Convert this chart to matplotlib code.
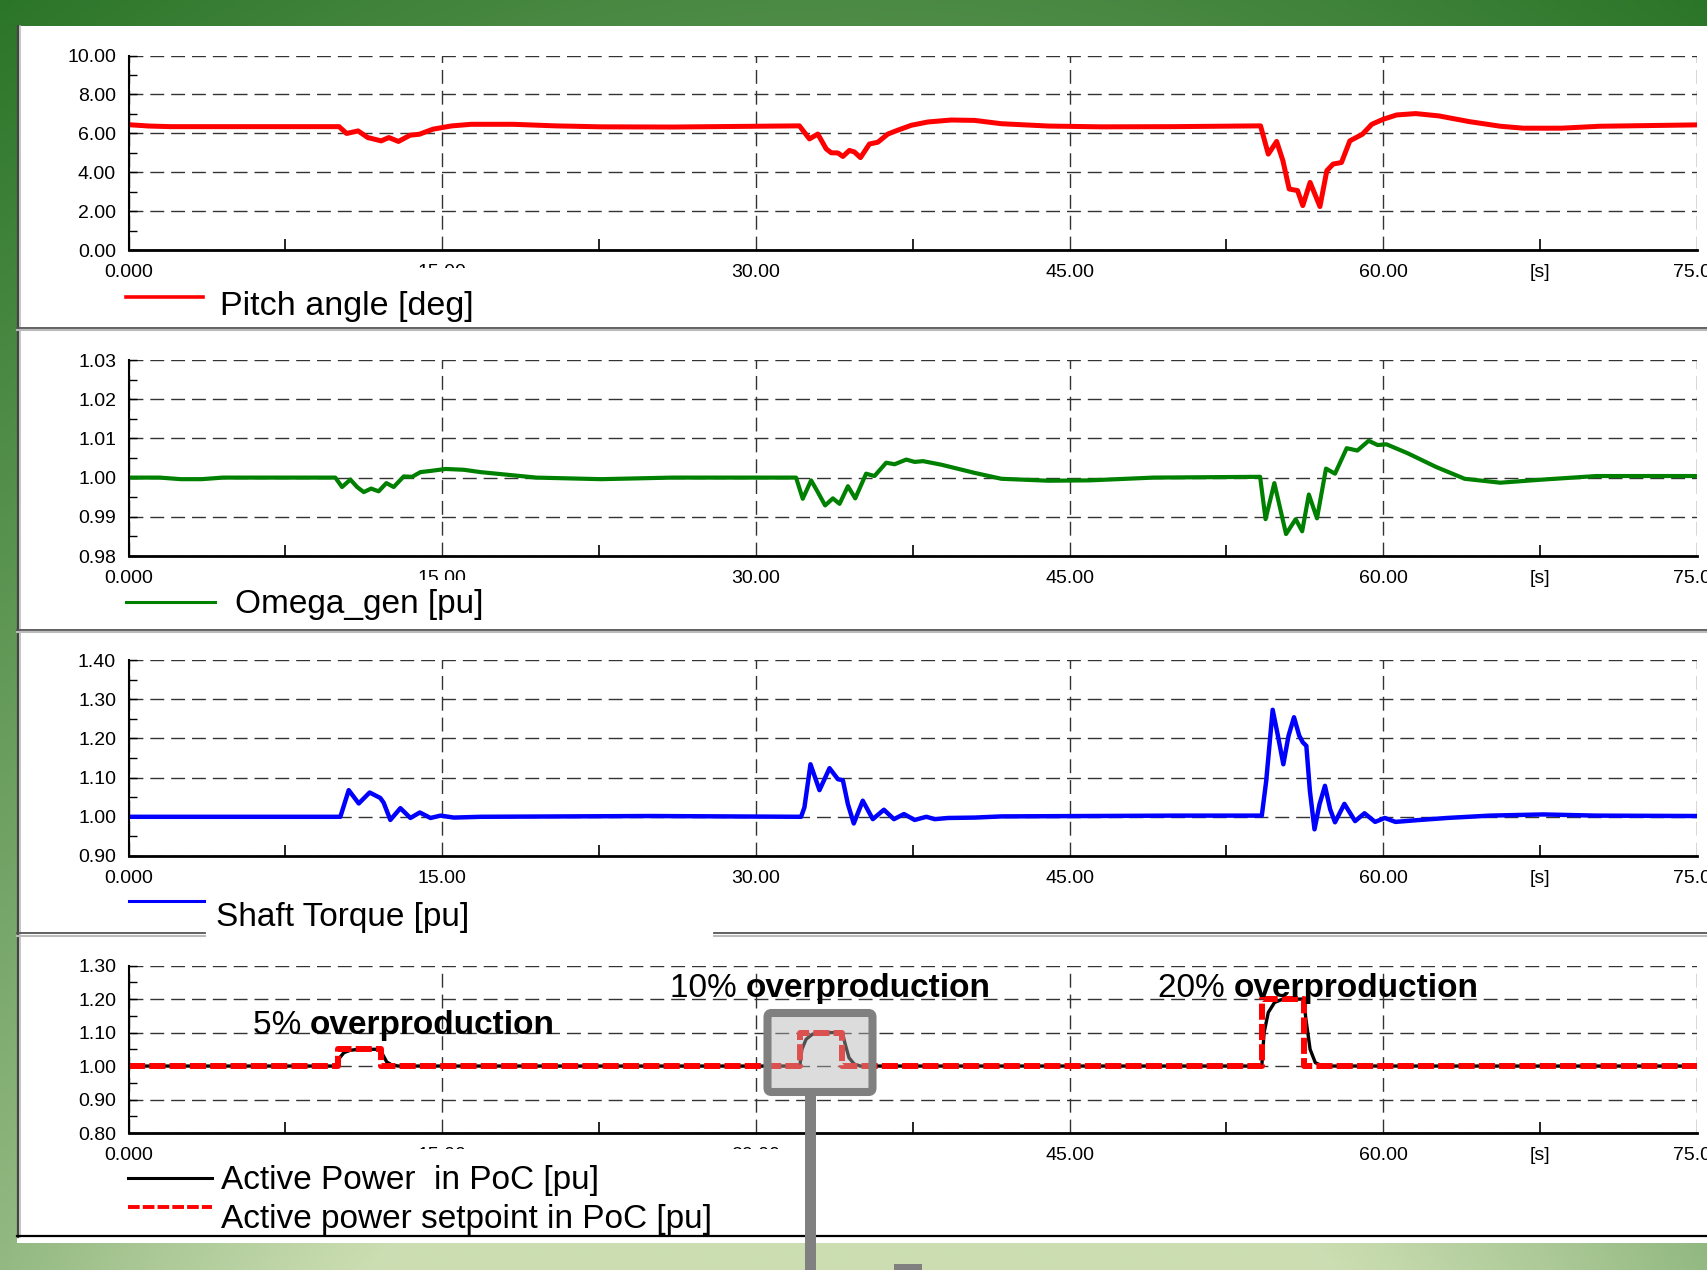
import numpy as np
import matplotlib.pyplot as plt
from matplotlib.patches import Rectangle, FancyBboxPatch
from matplotlib.lines import Line2D

plt.rcParams['font.family'] = ['Liberation Sans', 'DejaVu Sans']

W, H = 1707, 1270

# ---- data ----
pitch_t = [0, 1.0, 2.0, 10.07, 10.43, 10.98, 11.44, 12.08, 12.45, 12.91, 13.46, 13.91, 14.56,
           15.47, 16.39, 18.4, 20.4, 22.6, 26.0, 32.08, 32.56, 32.96, 33.36, 33.6, 33.92, 34.16,
           34.47, 34.71, 35.0, 35.43, 35.83, 36.31, 36.79, 37.43, 38.23, 39.34, 40.46, 41.74,
           44.0, 46.5, 50.0, 54.13, 54.5, 54.9, 55.2, 55.5, 55.9, 56.15, 56.5, 56.97, 57.3, 57.6,
           58.0, 58.4, 59.0, 59.45, 60.0, 60.64, 61.55, 62.66, 64.1, 65.6, 66.7, 68.5, 70.35, 75.0]
pitch_v = [6.45, 6.38, 6.35, 6.35, 6.0, 6.13, 5.79, 5.62, 5.79, 5.59, 5.91, 5.96, 6.22,
           6.39, 6.47, 6.47, 6.39, 6.34, 6.33, 6.39, 5.72, 5.97, 5.21, 5.01, 5.0, 4.82,
           5.13, 5.05, 4.76, 5.46, 5.55, 5.97, 6.17, 6.42, 6.59, 6.69, 6.67, 6.5,
           6.38, 6.34, 6.35, 6.39, 4.94, 5.59, 4.6, 3.15, 3.07, 2.3, 3.49, 2.25, 4.09, 4.43,
           4.51, 5.62, 5.96, 6.47, 6.73, 6.95, 7.02, 6.9, 6.61, 6.37, 6.27, 6.27, 6.37, 6.44]

omega_t = [0, 1.5, 2.5, 3.5, 4.5, 9.89, 10.21, 10.61, 10.93, 11.25, 11.6, 11.96, 12.33, 12.68,
           13.16, 13.56, 13.96, 14.44, 15.16, 16.03, 16.83, 19.5, 22.6, 26.0, 31.92, 32.24, 32.64,
           32.96, 33.31, 33.68, 34.0, 34.4, 34.75, 35.27, 35.67, 36.23, 36.63, 37.19, 37.59, 37.99,
           38.86, 40.46, 41.74, 44.0, 46.0, 49.0, 54.11, 54.37, 54.79, 55.35, 55.81, 56.12, 56.44,
           56.83, 57.26, 57.69, 58.25, 58.76, 59.3, 59.73, 60.15, 61.17, 62.53, 63.89, 65.59,
           67.64, 70.19, 75.0]
omega_v = [1.0, 1.0, 0.9996, 0.9996, 1.0, 1.0, 0.9976, 0.9995, 0.9976, 0.9963, 0.9972, 0.9965,
           0.9986, 0.9976, 1.0003, 1.0002, 1.0014, 1.0017, 1.0022, 1.002, 1.0014, 1.0, 0.9996, 1.0,
           1.0, 0.9946, 0.9993, 0.9963, 0.9929, 0.9947, 0.9933, 0.9978, 0.9947, 1.001, 1.0004,
           1.0038, 1.0034, 1.0046, 1.004, 1.0042, 1.0033, 1.0012, 0.9997, 0.9992, 0.9993, 1.0,
           1.0002, 0.9894, 0.9986, 0.9856, 0.9894, 0.9863, 0.9957, 0.9896, 1.0023, 1.001, 1.0075,
           1.0069, 1.0094, 1.0083, 1.0085, 1.0062, 1.0027, 0.9997, 0.9987, 0.9995, 1.0004, 1.0004]

torque_t = [0, 10.13, 10.53, 11.01, 11.53, 12.04, 12.2, 12.52, 13.0, 13.48, 13.93, 14.44, 14.92,
            15.56, 16.83, 25.0, 32.16, 32.32, 32.61, 33.04, 33.52, 33.92, 34.16, 34.4, 34.68,
            35.11, 35.59, 36.12, 36.6, 37.08, 37.59, 38.15, 38.55, 39.19, 40.46, 41.74, 50.0,
            54.19, 54.4, 54.71, 54.96, 55.22, 55.47, 55.73, 55.98, 56.15, 56.32, 56.49, 56.71,
            56.95, 57.21, 57.46, 57.69, 58.14, 58.65, 59.1, 59.61, 60.07, 60.58, 61.51, 63.04,
            65.09, 67.64, 70.19, 75.0]
torque_v = [1.0, 1.0, 1.068, 1.034, 1.062, 1.048, 1.036, 0.992, 1.022, 0.997, 1.011, 0.997, 1.003,
            0.998, 1.0, 1.002, 1.0, 1.024, 1.134, 1.068, 1.124, 1.096, 1.093, 1.032, 0.983,
            1.041, 0.994, 1.018, 0.994, 1.007, 0.992, 1.0, 0.994, 0.997, 0.998, 1.001, 1.003,
            1.003, 1.091, 1.273, 1.207, 1.134, 1.207, 1.254, 1.207, 1.19, 1.181, 1.066, 0.968,
            1.032, 1.079, 1.019, 0.986, 1.033, 0.989, 1.009, 0.987, 0.997, 0.987, 0.991, 0.997,
            1.003, 1.006, 1.003, 1.002]

setpoint_t = [0, 10.01, 10.01, 12.05, 12.05, 32.1, 32.1, 34.14, 34.14, 54.19, 54.19, 56.19, 56.19, 75]
setpoint_v = [1.0, 1.0, 1.05, 1.05, 1.0, 1.0, 1.1, 1.1, 1.0, 1.0, 1.2, 1.2, 1.0, 1.0]

power_t = [0, 10.01, 10.1, 10.3, 10.6, 11.0, 12.05, 12.15, 12.35, 12.6, 12.9,
           32.1, 32.2, 32.4, 32.7, 33.1, 34.14, 34.25, 34.45, 34.7, 35.0,
           54.19, 54.3, 54.5, 54.8, 55.2, 56.19, 56.3, 56.5, 56.75, 57.1, 75]
power_v = [1.0, 1.0, 1.025, 1.04, 1.047, 1.05, 1.05, 1.035, 1.012, 1.003, 1.0,
           1.0, 1.05, 1.08, 1.095, 1.1, 1.1, 1.07, 1.025, 1.006, 1.0,
           1.0, 1.1, 1.16, 1.19, 1.2, 1.2, 1.14, 1.05, 1.01, 1.0, 1.0]

x_major = [0, 15, 30, 45, 60, 75]
x_major_labels = ['0.000', '15.00', '30.00', '45.00', '60.00', '75.00']
x_minor = [7.5, 22.5, 37.5, 52.5, 67.5]
x_minor_labels = ['', '', '', '', '[s]']

annotations = [('5%', 5.93, 1.096), ('10%', 25.87, 1.2065), ('20%', 49.23, 1.2066)]

# ---- figure and slide background ----
fig = plt.figure(figsize=(W / 100, H / 100), dpi=100)

bg = fig.add_axes([0, 0, 1, 1], zorder=-10)
yy, xx = np.mgrid[0:H:200j, 0:W:200j]
s = np.sin(np.pi * xx / W)
v = np.clip(0.2 * s + (yy / H) * (0.65 + 0.35 * s), 0, 1)
dark = np.array([0.17, 0.46, 0.16])
light = np.array([0.80, 0.87, 0.70])
bg.imshow(dark + v[..., None] * (light - dark), extent=[0, W, H, 0], aspect='auto',
          interpolation='bilinear')
bg.set_xlim(0, W)
bg.set_ylim(H, 0)
bg.axis('off')

# white panel with its borders
bg.add_patch(Rectangle((17, 26), W, 1217, facecolor='white', edgecolor='none'))
bg.plot([17.5, 17.5], [26, 1237], color='#444444', lw=1.6)
bg.plot([20, 20], [26, 1237], color='#bbbbbb', lw=1.2)
bg.plot([17, W], [1236, 1236], color='black', lw=1.6)
for ysep in (327.5, 629.5):
    bg.plot([17, W], [ysep, ysep], color='#555555', lw=1.3)
    bg.plot([17, W], [ysep + 2.5, ysep + 2.5], color='#bbbbbb', lw=1.5)
for xa, xb in ((17, 205), (714, W)):
    bg.plot([xa, xb], [933, 933], color='#555555', lw=1.3)
    bg.plot([xa, xb], [935.5, 935.5], color='#bbbbbb', lw=1.5)


def add_px_axes(left, top, right, bottom):
    return fig.add_axes([left / W, 1 - bottom / H, (right - left) / W, (bottom - top) / H])


def style_axes(ax, ymin, ymax, step):
    ax.set_facecolor('none')
    ax.set_xlim(0, 75)
    ax.set_ylim(ymin, ymax)
    yt = np.round(np.arange(ymin, ymax + step / 2, step), 4)
    ax.set_yticks(yt, labels=['%.2f' % t for t in yt])
    ax.set_yticks(yt[:-1] + step / 2, minor=True)
    ax.set_xticks(x_major, labels=x_major_labels)
    ax.set_xticks(x_minor, labels=x_minor_labels, minor=True)
    ax.tick_params(axis='y', which='both', direction='in', length=6, width=1,
                   labelsize=14, pad=9)
    ax.tick_params(axis='x', which='major', length=0, labelsize=14, pad=10)
    ax.tick_params(axis='x', which='minor', direction='in', length=8, width=1.2,
                   labelsize=14, pad=10)
    ax.grid(True, which='major', color='#333333', lw=1.0, ls=(0, (10, 5)))
    for side in ('top', 'right'):
        ax.spines[side].set_visible(False)
    ax.spines['left'].set_linewidth(1.5)
    ax.spines['bottom'].set_linewidth(2.0)


ax1 = add_px_axes(128.5, 55.5, 1697, 250.4)
style_axes(ax1, 0.0, 10.0, 2.0)
ax1.plot(pitch_t, pitch_v, color='#ff0000', lw=3.6, solid_joinstyle='round')

ax2 = add_px_axes(128.5, 360, 1697, 556)
style_axes(ax2, 0.98, 1.03, 0.01)
ax2.plot(omega_t, omega_v, color='#008000', lw=3.0, solid_joinstyle='round')

ax3 = add_px_axes(128.5, 660, 1697, 856)
style_axes(ax3, 0.90, 1.40, 0.10)
ax3.plot(torque_t, torque_v, color='#0000ff', lw=3.2, solid_joinstyle='round')

ax4 = add_px_axes(128.5, 965.6, 1697, 1133)
style_axes(ax4, 0.80, 1.30, 0.10)
ax4.plot(power_t, power_v, color='black', lw=2.4)
ax4.plot(setpoint_t, setpoint_v, color='#ff0000', lw=4.3, dashes=(2.7, 0.7))
for pct, tx, ty in annotations:
    t1 = ax4.text(tx, ty, pct + ' ', fontsize=24, va='baseline', ha='left', zorder=20)
    ax4.annotate('overproduction', xy=(1, 0), xycoords=t1, fontsize=24, fontweight='bold',
                 va='bottom', ha='left', zorder=20)

# ---- overlay: legends, hidden label parts, callout ----
ov = fig.add_axes([0, 0, 1, 1], zorder=10)
ov.set_facecolor('none')
ov.set_xlim(0, W)
ov.set_ylim(H, 0)
ov.axis('off')

# parts of x tick labels hidden under the legend boxes
ov.add_patch(Rectangle((380, 268), 110, 20, facecolor='white', edgecolor='none'))
ov.add_patch(Rectangle((380, 580), 110, 16, facecolor='white', edgecolor='none'))
ov.add_patch(Rectangle((380, 1149), 420, 18, facecolor='white', edgecolor='none'))

ov.add_line(Line2D([126, 203], [296.5, 296.5], color='#ff0000', lw=2.6))
ov.text(220, 315, 'Pitch angle [deg]', fontsize=24.5, va='baseline')
ov.add_line(Line2D([126, 215], [602, 602], color='#008000', lw=2.2))
ov.text(235, 613, 'Omega_gen [pu]', fontsize=24, va='baseline')
ov.add_line(Line2D([129, 204], [901, 901], color='#0000ff', lw=2.2))
ov.text(215.5, 926, 'Shaft Torque [pu]', fontsize=24, va='baseline')
ov.add_line(Line2D([127.5, 212], [1178, 1178], color='black', lw=2.2))
ov.text(221, 1189, 'Active Power  in PoC [pu]', fontsize=24, va='baseline')
ov.add_line(Line2D([127.5, 212], [1206.5, 1206.5], color='#ff0000', lw=2.8, dashes=(3, 0.8)))
ov.text(221, 1228, 'Active power setpoint in PoC [pu]', fontsize=24, va='baseline')

# callout box around the 10% step
ov.add_patch(FancyBboxPatch((767.5, 1013), 105, 79, boxstyle='round,pad=0,rounding_size=4',
                            facecolor=(0.70, 0.70, 0.70, 0.45), edgecolor='#808080', lw=5.8))
ov.add_patch(Rectangle((805, 1096), 10.5, H - 1096, facecolor='#808080', edgecolor='none'))
ov.add_patch(Rectangle((894, 1264), 27.5, 8, facecolor='#808080', edgecolor='none'))

fig.savefig('out.png', dpi=100)
